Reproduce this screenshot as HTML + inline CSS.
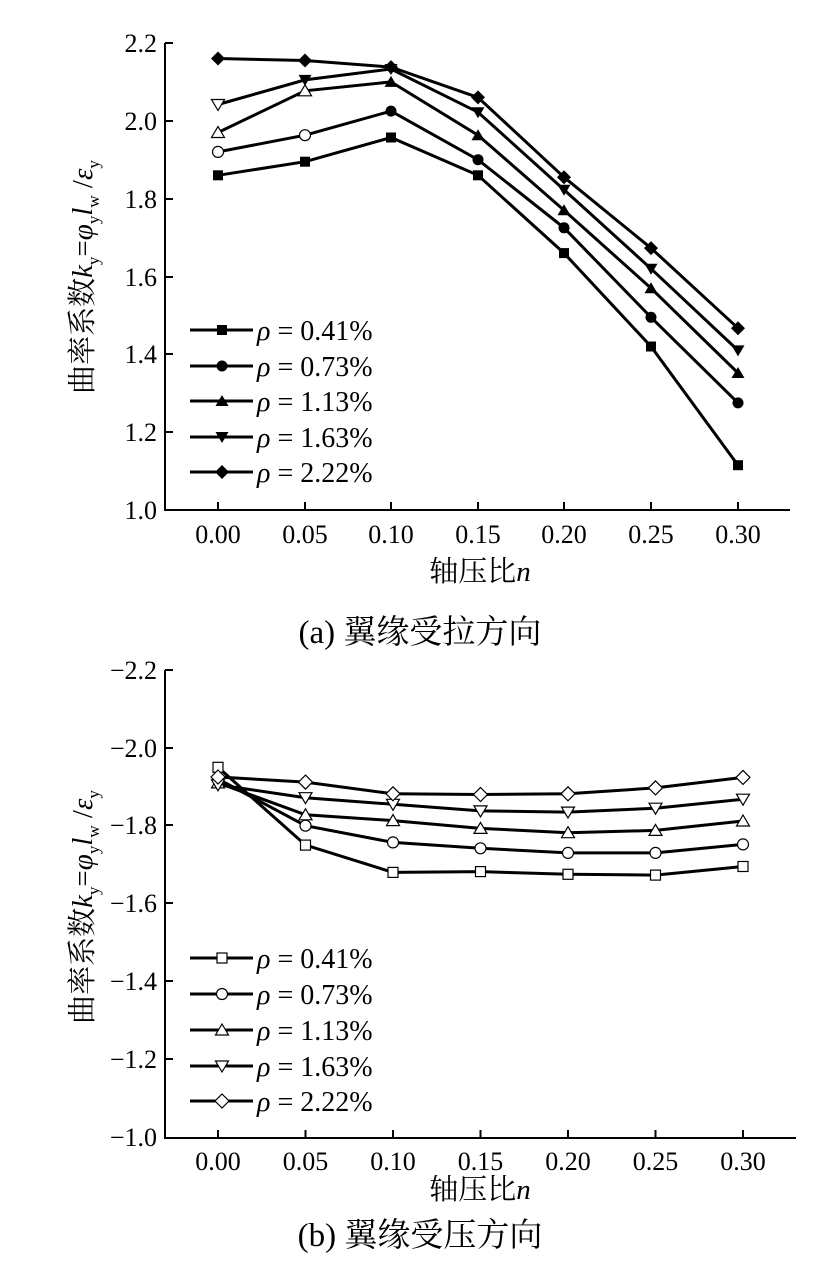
<!DOCTYPE html>
<html><head><meta charset="utf-8"><style>
html,body{margin:0;padding:0;background:#fff}
svg{display:block}
text{font-family:"Liberation Serif","Noto Serif CJK SC",serif;fill:#000}
</style></head><body>
<svg width="819" height="1262" viewBox="0 0 819 1262" xmlns="http://www.w3.org/2000/svg">
<defs>
<rect id="sqF" x="-5" y="-5" width="10" height="10" fill="#000"/>
<circle id="ciF" r="5.5" fill="#000"/>
<path id="trF" d="M0,-6 L6.5,5 L-6.5,5 Z" fill="#000"/>
<path id="tdF" d="M0,6 L6.5,-5 L-6.5,-5 Z" fill="#000"/>
<path id="diF" d="M0,-7 L7,0 L0,7 L-7,0 Z" fill="#000"/>
<rect id="sqO" x="-5" y="-5" width="10" height="10" fill="#fff" stroke="#000" stroke-width="1.2"/>
<circle id="ciO" r="5.5" fill="#fff" stroke="#000" stroke-width="1.2"/>
<path id="trO" d="M0,-6 L6.5,5 L-6.5,5 Z" fill="#fff" stroke="#000" stroke-width="1.2"/>
<path id="tdO" d="M0,6 L6.5,-5 L-6.5,-5 Z" fill="#fff" stroke="#000" stroke-width="1.2"/>
<path id="diO" d="M0,-7 L7,0 L0,7 L-7,0 Z" fill="#fff" stroke="#000" stroke-width="1.2"/>
</defs>

<!-- Chart (a) -->
<g stroke="#000" stroke-width="2" fill="none">
<path d="M165,43 V510 H790"/>
<path d="M165,43 H173 M165,121 H173 M165,199 H173 M165,277 H173 M165,354 H173 M165,432 H173"/>
<path d="M218,510 V502 M305,510 V502 M391,510 V502 M478,510 V502 M564,510 V502 M651,510 V502 M738,510 V502"/>
</g>
<g font-size="26" text-anchor="end">
<text x="157" y="52">2.2</text><text x="157" y="130">2.0</text><text x="157" y="208">1.8</text>
<text x="157" y="286">1.6</text><text x="157" y="363">1.4</text><text x="157" y="441">1.2</text><text x="157" y="519">1.0</text>
</g>
<g font-size="26" text-anchor="middle">
<text x="218" y="543">0.00</text><text x="305" y="543">0.05</text><text x="391" y="543">0.10</text><text x="478" y="543">0.15</text>
<text x="564" y="543">0.20</text><text x="651" y="543">0.25</text><text x="738" y="543">0.30</text>
</g>
<text x="480" y="581" font-size="29" text-anchor="middle">轴压比<tspan font-style="italic">n</tspan></text>
<text x="420" y="643" font-size="33" text-anchor="middle">(a)  翼缘受拉方向</text>
<text transform="translate(92,277) rotate(-90)" font-size="29" text-anchor="middle">曲率系数<tspan font-style="italic">k</tspan><tspan font-size="17" dy="7">y</tspan><tspan dy="-7">=</tspan><tspan font-style="italic">φ</tspan><tspan font-size="17" dy="7">y</tspan><tspan dy="-7" font-style="italic">l</tspan><tspan font-size="17" dy="7">w</tspan><tspan dy="-7"> /</tspan><tspan font-style="italic">ε</tspan><tspan font-size="17" dy="7">y</tspan></text>

<g stroke="#000" stroke-width="3" fill="none">
<polyline points="218,175.3 305,161.7 391,137.5 478,175.3 564,253.1 651,346.5 738,465.2"/>
<polyline points="218,151.9 305,135.2 391,111.1 478,159.7 564,227.8 651,317.3 738,402.9"/>
<polyline points="218,132.5 305,90.8 391,81.9 478,135.2 564,210.3 651,288.2 738,373"/>
<polyline points="218,104.5 305,79.9 391,69 478,112.2 564,189.7 651,268.7 738,350.4"/>
<polyline points="218,58.5 305,60.5 391,67.1 478,97.4 564,177.2 651,248.1 738,328.2"/>
</g>
<g>
<use href="#sqF" x="218" y="175.3"/><use href="#sqF" x="305" y="161.7"/><use href="#sqF" x="391" y="137.5"/><use href="#sqF" x="478" y="175.3"/><use href="#sqF" x="564" y="253.1"/><use href="#sqF" x="651" y="346.5"/><use href="#sqF" x="738" y="465.2"/>
<use href="#ciO" x="218" y="151.9"/><use href="#ciO" x="305" y="135.2"/><use href="#ciF" x="391" y="111.1"/><use href="#ciF" x="478" y="159.7"/><use href="#ciF" x="564" y="227.8"/><use href="#ciF" x="651" y="317.3"/><use href="#ciF" x="738" y="402.9"/>
<use href="#trO" x="218" y="132.5"/><use href="#trO" x="305" y="90.8"/><use href="#trF" x="391" y="81.9"/><use href="#trF" x="478" y="135.2"/><use href="#trF" x="564" y="210.3"/><use href="#trF" x="651" y="288.2"/><use href="#trF" x="738" y="373"/>
<use href="#tdO" x="218" y="104.5"/><use href="#tdF" x="305" y="79.9"/><use href="#tdF" x="391" y="69"/><use href="#tdF" x="478" y="112.2"/><use href="#tdF" x="564" y="189.7"/><use href="#tdF" x="651" y="268.7"/><use href="#tdF" x="738" y="350.4"/>
<use href="#diF" x="218" y="58.5"/><use href="#diF" x="305" y="60.5"/><use href="#diF" x="391" y="67.1"/><use href="#diF" x="478" y="97.4"/><use href="#diF" x="564" y="177.2"/><use href="#diF" x="651" y="248.1"/><use href="#diF" x="738" y="328.2"/>
</g>
<!-- legend a -->
<g stroke="#000" stroke-width="3">
<path d="M190,330 H253 M190,366 H253 M190,401 H253 M190,437 H253 M190,472 H253"/>
</g>
<use href="#sqF" x="222" y="330"/><use href="#ciF" x="222" y="366"/><use href="#trF" x="222" y="401"/><use href="#tdF" x="222" y="437"/><use href="#diF" x="222" y="472"/>
<g font-size="28">
<text x="257" y="340"><tspan font-style="italic">ρ</tspan> = 0.41%</text>
<text x="257" y="376"><tspan font-style="italic">ρ</tspan> = 0.73%</text>
<text x="257" y="411"><tspan font-style="italic">ρ</tspan> = 1.13%</text>
<text x="257" y="447"><tspan font-style="italic">ρ</tspan> = 1.63%</text>
<text x="257" y="482"><tspan font-style="italic">ρ</tspan> = 2.22%</text>
</g>

<!-- Chart (b) -->
<g stroke="#000" stroke-width="2" fill="none">
<path d="M165,670 V1138 H796"/>
<path d="M165,670 H173 M165,748 H173 M165,825 H173 M165,903 H173 M165,981 H173 M165,1059 H173"/>
<path d="M218,1138 V1130 M305.5,1138 V1130 M393,1138 V1130 M480.5,1138 V1130 M568,1138 V1130 M655.5,1138 V1130 M743,1138 V1130"/>
</g>
<g font-size="26" text-anchor="end">
<text x="157" y="679">−2.2</text><text x="157" y="757">−2.0</text><text x="157" y="834">−1.8</text>
<text x="157" y="912">−1.6</text><text x="157" y="990">−1.4</text><text x="157" y="1068">−1.2</text><text x="157" y="1146">−1.0</text>
</g>
<g font-size="26" text-anchor="middle">
<text x="218" y="1170">0.00</text><text x="305.5" y="1170">0.05</text><text x="393" y="1170">0.10</text><text x="480.5" y="1170">0.15</text>
<text x="568" y="1170">0.20</text><text x="655.5" y="1170">0.25</text><text x="743" y="1170">0.30</text>
</g>
<text x="480" y="1199" font-size="29" text-anchor="middle">轴压比<tspan font-style="italic">n</tspan></text>
<text x="420" y="1246" font-size="33" text-anchor="middle">(b)  翼缘受压方向</text>
<text transform="translate(92,907) rotate(-90)" font-size="29" text-anchor="middle">曲率系数<tspan font-style="italic">k</tspan><tspan font-size="17" dy="7">y</tspan><tspan dy="-7">=</tspan><tspan font-style="italic">φ</tspan><tspan font-size="17" dy="7">y</tspan><tspan dy="-7" font-style="italic">l</tspan><tspan font-size="17" dy="7">w</tspan><tspan dy="-7"> /</tspan><tspan font-style="italic">ε</tspan><tspan font-size="17" dy="7">y</tspan></text>

<g stroke="#000" stroke-width="3" fill="none">
<polyline points="218,767.3 305.5,845.1 393,872.4 480.5,871.6 568,874.3 655.5,875.1 743,866.5"/>
<polyline points="218,779 305.5,825.7 393,842.4 480.5,848.3 568,852.9 655.5,852.9 743,844.4"/>
<polyline points="218,782.9 305.5,814.8 393,820.6 480.5,828.4 568,832.7 655.5,830.4 743,821"/>
<polyline points="218,784.8 305.5,797.7 393,804.3 480.5,810.9 568,812.1 655.5,808.2 743,799.2"/>
<polyline points="218,777 305.5,782.1 393,793.8 480.5,794.5 568,793.8 655.5,787.9 743,777.4"/>
</g>
<g>
<use href="#sqO" x="218" y="767.3"/><use href="#sqO" x="305.5" y="845.1"/><use href="#sqO" x="393" y="872.4"/><use href="#sqO" x="480.5" y="871.6"/><use href="#sqO" x="568" y="874.3"/><use href="#sqO" x="655.5" y="875.1"/><use href="#sqO" x="743" y="866.5"/>
<use href="#ciO" x="218" y="779"/><use href="#ciO" x="305.5" y="825.7"/><use href="#ciO" x="393" y="842.4"/><use href="#ciO" x="480.5" y="848.3"/><use href="#ciO" x="568" y="852.9"/><use href="#ciO" x="655.5" y="852.9"/><use href="#ciO" x="743" y="844.4"/>
<use href="#trO" x="218" y="782.9"/><use href="#trO" x="305.5" y="814.8"/><use href="#trO" x="393" y="820.6"/><use href="#trO" x="480.5" y="828.4"/><use href="#trO" x="568" y="832.7"/><use href="#trO" x="655.5" y="830.4"/><use href="#trO" x="743" y="821"/>
<use href="#tdO" x="218" y="784.8"/><use href="#tdO" x="305.5" y="797.7"/><use href="#tdO" x="393" y="804.3"/><use href="#tdO" x="480.5" y="810.9"/><use href="#tdO" x="568" y="812.1"/><use href="#tdO" x="655.5" y="808.2"/><use href="#tdO" x="743" y="799.2"/>
<use href="#diO" x="218" y="777"/><use href="#diO" x="305.5" y="782.1"/><use href="#diO" x="393" y="793.8"/><use href="#diO" x="480.5" y="794.5"/><use href="#diO" x="568" y="793.8"/><use href="#diO" x="655.5" y="787.9"/><use href="#diO" x="743" y="777.4"/>
</g>
<!-- legend b -->
<g stroke="#000" stroke-width="3">
<path d="M190,958 H253 M190,994 H253 M190,1030 H253 M190,1066 H253 M190,1101 H253"/>
</g>
<use href="#sqO" x="222" y="958"/><use href="#ciO" x="222" y="994"/><use href="#trO" x="222" y="1030"/><use href="#tdO" x="222" y="1066"/><use href="#diO" x="222" y="1101"/>
<g font-size="28">
<text x="257" y="968"><tspan font-style="italic">ρ</tspan> = 0.41%</text>
<text x="257" y="1004"><tspan font-style="italic">ρ</tspan> = 0.73%</text>
<text x="257" y="1040"><tspan font-style="italic">ρ</tspan> = 1.13%</text>
<text x="257" y="1076"><tspan font-style="italic">ρ</tspan> = 1.63%</text>
<text x="257" y="1111"><tspan font-style="italic">ρ</tspan> = 2.22%</text>
</g>
</svg>
</body></html>
